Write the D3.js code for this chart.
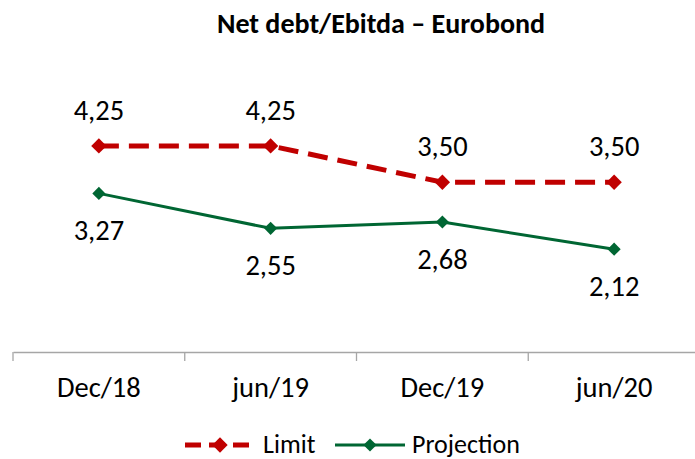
<!DOCTYPE html>
<html>
<head>
<meta charset="utf-8">
<script src="https://cdn.jsdelivr.net/npm/d3@7"></script>
<style>
  body { margin: 0; background: #fff; }
  text { font-family: Calibri, Carlito, Lato, sans-serif; fill: #000; }
</style>
</head>
<body>
<svg id="chart" width="695" height="459"></svg>
<script>
const categories = ['Dec/18', 'jun/19', 'Dec/19', 'jun/20']
const limit = [4.25, 4.25, 3.50, 3.50]
const projection = [3.27, 2.55, 2.68, 2.12]

const red = '#c00000'
const green = '#006633'
const fmt = v => d3.format('.2f')(v).replace('.', ',')

const svg = d3.select('#chart')

// title
svg.append('text')
  .attr('x', 381).attr('y', 33)
  .attr('text-anchor', 'middle')
  .style('font-size', '28px').style('font-weight', 'bold')
  .text('Net debt/Ebitda – Eurobond')

const x = d3.scaleBand().domain(categories).range([13, 700])
const y = d3.scaleLinear().domain([0, 6]).range([352, 61])

// axis
const axis = svg.append('g')
  .attr('transform', 'translate(0,352)')
  .call(d3.axisBottom(x).tickSize(0).tickFormat(''))
axis.select('.domain').attr('stroke', '#a6a6a6').attr('stroke-width', 1.3)
axis.selectAll('.sep')
  .data(categories)
  .enter()
  .append('line')
  .attr('x1', d => x(d)).attr('x2', d => x(d))
  .attr('y1', 0).attr('y2', 9)
  .attr('stroke', '#a6a6a6').attr('stroke-width', 1.3)

svg.selectAll('text.cat')
  .data(categories)
  .enter()
  .append('text')
  .attr('class', 'cat')
  .attr('x', d => x(d) + x.bandwidth() / 2)
  .attr('y', 397)
  .attr('text-anchor', 'middle')
  .style('font-size', '28.5px')
  .text(d => d)

const cx = (d, i) => x(categories[i]) + x.bandwidth() / 2
const line = d3.line().x(cx).y(d => y(d))
const diamond = d3.symbol().type(d3.symbolDiamond2)

// projection
svg.append('path')
  .datum(projection)
  .attr('d', line)
  .attr('fill', 'none')
  .attr('stroke', green)
  .attr('stroke-width', 3)
svg.selectAll('path.pm')
  .data(projection)
  .enter()
  .append('path')
  .attr('class', 'pm')
  .attr('d', diamond.size(110))
  .attr('transform', (d, i) => `translate(${cx(d, i)},${y(d)})`)
  .attr('fill', green)
svg.selectAll('text.pl')
  .data(projection)
  .enter()
  .append('text')
  .attr('class', 'pl')
  .attr('x', cx)
  .attr('y', d => y(d) + 47)
  .attr('text-anchor', 'middle')
  .style('font-size', '28.5px')
  .text(fmt)

// limit
svg.append('path')
  .datum(limit)
  .attr('d', line)
  .attr('fill', 'none')
  .attr('stroke', red)
  .attr('stroke-width', 5)
  .attr('stroke-dasharray', '20,10')
svg.selectAll('path.lm')
  .data(limit)
  .enter()
  .append('path')
  .attr('class', 'lm')
  .attr('d', diamond.size(150))
  .attr('transform', (d, i) => `translate(${cx(d, i)},${y(d)})`)
  .attr('fill', red)
svg.selectAll('text.ll')
  .data(limit)
  .enter()
  .append('text')
  .attr('class', 'll')
  .attr('x', cx)
  .attr('y', d => y(d) - 26)
  .attr('text-anchor', 'middle')
  .style('font-size', '28.5px')
  .text(fmt)

// legend
const lg = svg.append('g').attr('transform', 'translate(0,445)')
lg.append('line')
  .attr('x1', 185).attr('x2', 252).attr('y1', 0).attr('y2', 0)
  .attr('stroke', red).attr('stroke-width', 5)
  .attr('stroke-dasharray', '16,8')
lg.append('path')
  .attr('d', diamond.size(150))
  .attr('transform', 'translate(220,0)')
  .attr('fill', red)
lg.append('text')
  .attr('x', 263).attr('y', 8)
  .style('font-size', '26px')
  .text('Limit')
lg.append('line')
  .attr('x1', 335).attr('x2', 405).attr('y1', 0).attr('y2', 0)
  .attr('stroke', green).attr('stroke-width', 3)
lg.append('path')
  .attr('d', diamond.size(110))
  .attr('transform', 'translate(370,0)')
  .attr('fill', green)
lg.append('text')
  .attr('x', 412).attr('y', 8)
  .style('font-size', '26px')
  .text('Projection')
</script>
</body>
</html>
